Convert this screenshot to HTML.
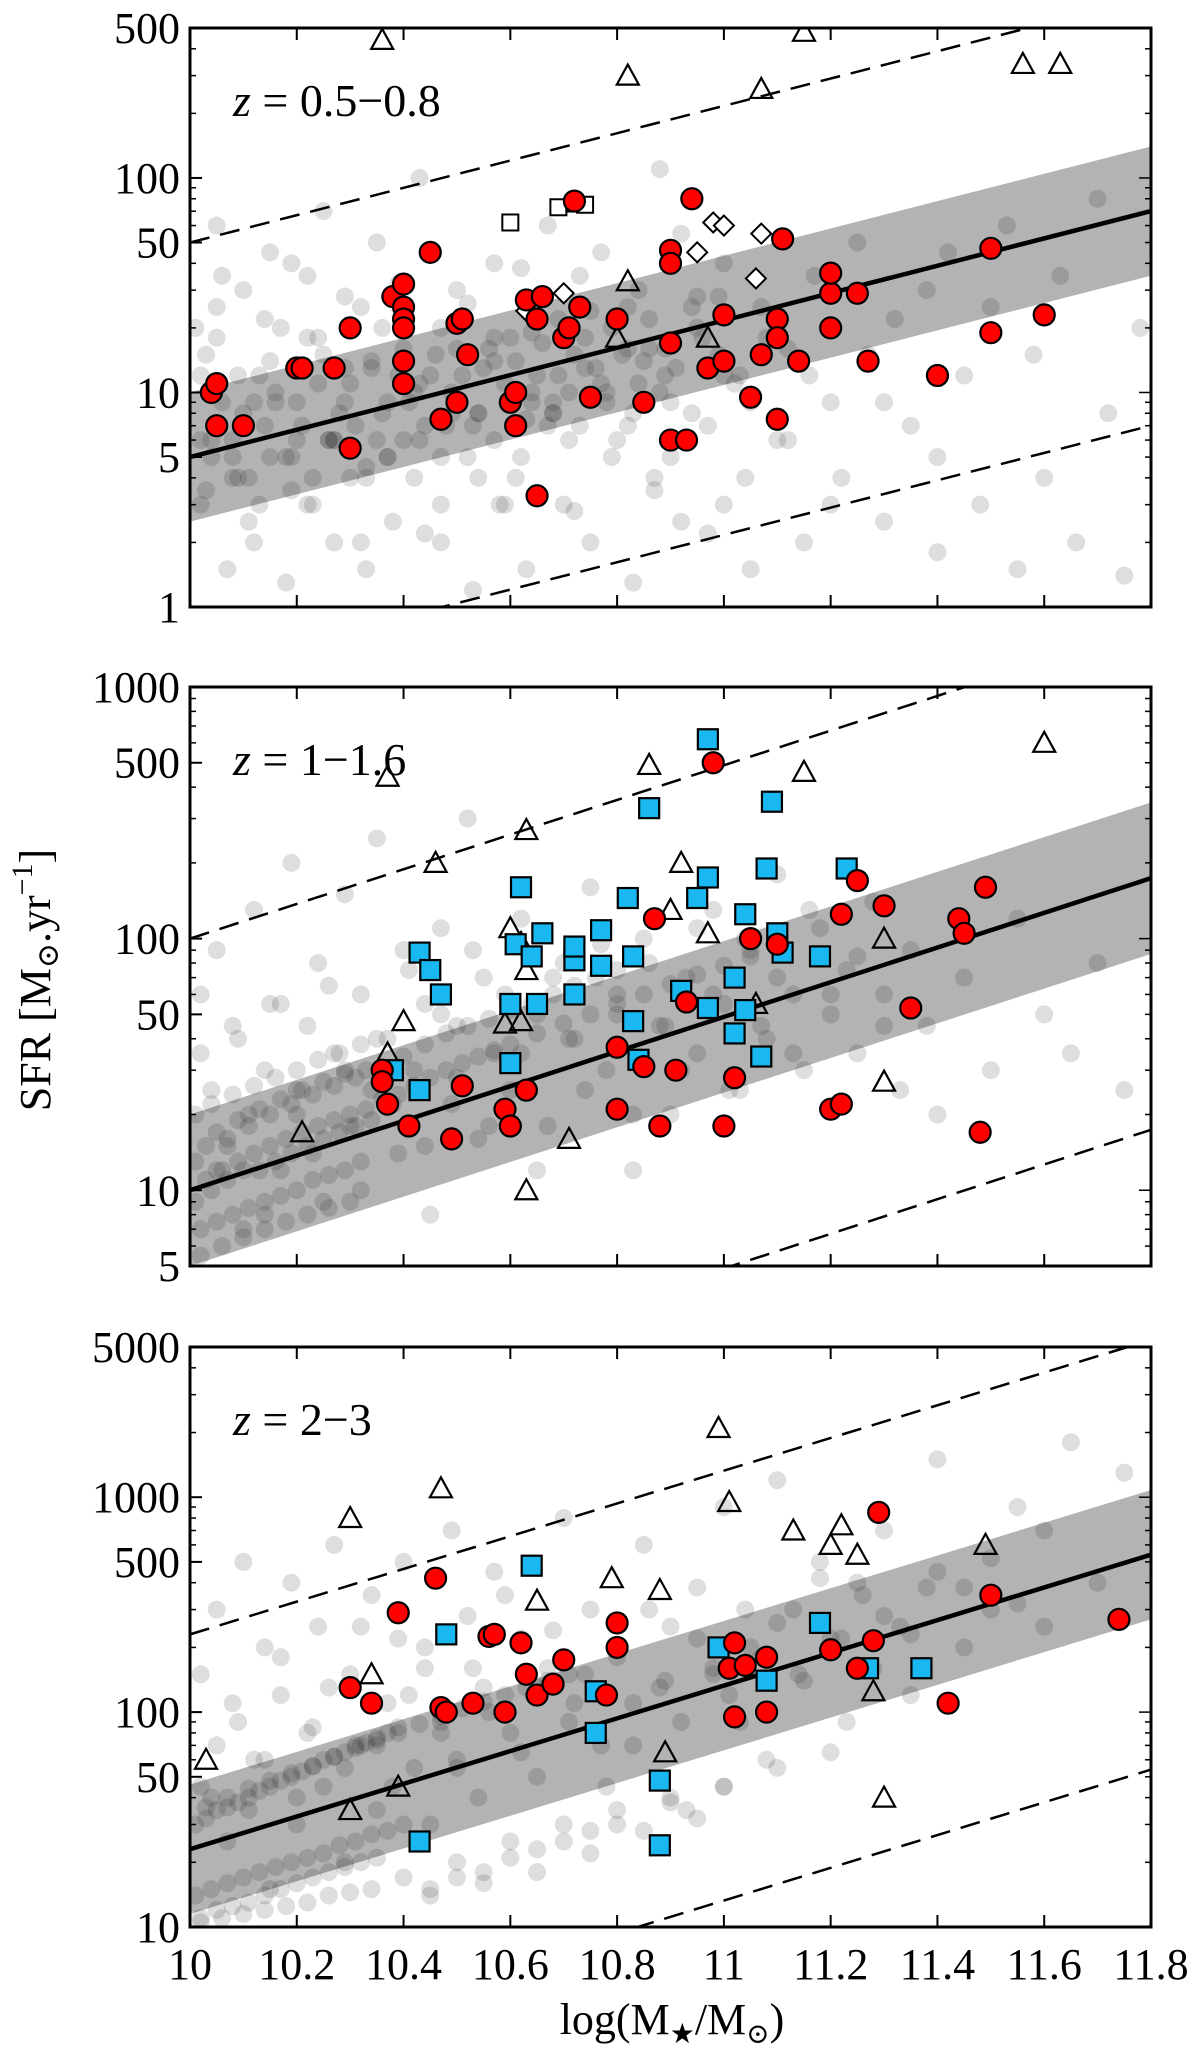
<!DOCTYPE html>
<html><head><meta charset="utf-8"><title>SFR vs stellar mass</title>
<style>html,body{margin:0;padding:0;background:#fff}svg{display:block}
text{font-family:"Liberation Serif","DejaVu Serif",serif;fill:#000}</style></head>
<body>
<svg id="chart" xmlns="http://www.w3.org/2000/svg" width="1200" height="2060" viewBox="0 0 1200 2060">
<defs>
<clipPath id="c1"><rect x="190" y="28" width="961" height="579"/></clipPath>
<clipPath id="c2"><rect x="190" y="687" width="961" height="579"/></clipPath>
<clipPath id="c3"><rect x="190" y="1347" width="961" height="580"/></clipPath>
</defs>
<g id="root"></g>
<text transform="translate(50,980) rotate(-90)" text-anchor="middle" font-size="44">SFR [M<tspan font-size="30" dy="8">⊙</tspan><tspan dy="-8">.yr</tspan><tspan font-size="30" dy="-18">−1</tspan><tspan dy="18">]</tspan></text>
<text x="672" y="2034" text-anchor="middle" font-size="44">log(M<tspan font-size="28" dy="9">★</tspan><tspan dy="-9">/M</tspan><tspan font-size="28" dy="9">⊙</tspan><tspan dy="-9">)</tspan></text>
</svg>
<script>
const xTicks=[10,10.2,10.4,10.6,10.8,11,11.2,11.4,11.6,11.8];
const xTickLabels=["10","10.2","10.4","10.6","10.8","11","11.2","11.4","11.6","11.8"];
const panelLabels=["0.5−0.8","1−1.6","2−3"];
const yTicks1=[1,5,10,50,100,500];
const yTicks2=[5,10,50,100,500,1000];
const yTicks3=[10,50,100,500,1000,5000];
const msNorm=[5,10,23];
const msSlope=[0.637,0.689,0.7615];

// Panel 1
const red1X=[10.04,10.05,10.05,10.1,10.2,10.21,10.27,10.3,10.3,10.38,10.4,10.4,10.4,10.4,10.4,10.4,10.45,10.47,10.5,10.5,10.51,10.52,10.6,10.61,10.61,10.63,10.65,10.65,10.66,10.7,10.71,10.72,10.73,10.75,10.8,10.85,10.9,10.9,10.9,10.9,10.93,10.94,10.97,11.0,11.0,11.05,11.07,11.1,11.1,11.11,11.1,11.14,11.2,11.2,11.2,11.25,11.27,11.4,11.5,11.5,11.6];
const red1Y=[10,11,7,7,13,13,13,5.5,20,28,32,25,22,20,14,11,45,7.5,21,9,22,15,9,10,7,27,3.3,22,28,18,20,78,25,9.5,22,9,17,46,40,6,6,80,13,14,23,9.5,15,22,18,52,7.5,14,20,29,36,29,14,12,47,19,23];
const tri1X=[10.36,10.82,10.82,10.8,10.97,11.07,11.15,11.56,11.63];
const tri1Y=[440,300,33,18,18,260,480,340,340];
const osq1X=[10.6,10.69,10.72,10.74];
const osq1Y=[62,73,76,75];
const dia1X=[10.63,10.7,10.95,10.98,11.0,11.07,11.06];
const dia1Y=[24,29,45,62,60,55,34];
const gray1X=[10.02,10.03,10.05,10.05,10.07,10.08,10.1,10.1,10.12,10.13,10.15,10.15,10.17,10.18,10.2,10.2,10.22,10.23,10.25,10.25,10.27,10.28,10.3,10.3,10.32,10.33,10.35,10.35,10.37,10.38,10.4,10.42,10.43,10.45,10.47,10.48,10.5,10.52,10.53,10.55,10.57,10.58,10.6,10.62,10.63,10.65,10.67,10.68,10.7,10.72,10.73,10.75,10.77,10.8,10.82,10.83,10.85,10.87,10.88,10.9,10.92,10.95,10.97,11.0,11.0,11.03,11.05,11.07,11.1,11.12,11.15,11.17,11.2,11.22,11.25,11.27,11.3,11.32,11.35,11.38,11.4,11.42,11.45,11.48,11.5,11.53,11.55,11.58,11.6,11.63,11.66,11.7,11.72,11.75,11.78,10.02,10.04,10.06,10.08,10.11,10.14,10.16,10.19,10.21,10.24,10.26,10.29,10.31,10.34,10.36,10.39,10.41,10.44,10.46,10.49,10.51,10.54,10.56,10.59,10.61,10.64,10.66,10.69,10.71,10.74,10.76,10.79,10.81,10.84,10.86,10.89,10.91,10.94,10.96,10.99,10.03,10.09,10.13,10.18,10.23,10.27,10.33,10.37,10.43,10.47,10.53,10.57,10.63,10.68,10.73,10.78,10.83,10.88,
10.01,10.04,10.06,10.09,10.11,10.14,10.16,10.19,10.22,10.24,10.27,10.29,10.32,10.34,10.37,10.39,10.42,10.44,10.47,10.49,10.52,10.54,10.57,10.59,10.62,10.64,10.67,10.69,10.72,10.74,10.77,10.79,10.82,10.84,10.87,10.89,10.92,10.94,10.97,10.99,11.02,11.04,11.08,11.12,11.16,11.2,11.3,11.4,
10.02,10.05,10.08,10.12,10.15,10.19,10.22,10.26,10.29,10.33,10.36,10.4,10.43,10.47,10.5,10.54,10.57,10.61,10.64,10.68,10.71,10.75,10.78,10.82,10.86,10.9,10.95,11.0,11.05,11.1];
const gray1Y=[3,15,25,60,1.5,4,8,30,2,12,5,45,20,1.3,6,9,35,3,15,70,2,8,11,4,25,1.5,6,50,9,2.5,16,4,100,12,2,7,30,5,1.2,13,40,3,18,5,1.5,12,60,8,3,15,35,2,11,6,25,1.3,14,4,110,9,2.5,20,7,3,40,12,1.5,25,6,16,2,35,9,4,50,15,2.5,22,7,30,1.8,45,12,3,25,60,1.5,15,4,35,2,80,8,1.4,20,6,5,9,6,4,7,10,5,7,11,6,9,7,13,8,12,9,7,15,10,12,8,16,11,14,9,17,12,10,18,13,20,15,11,22,16,13,25,18,15,3.5,4,3,5,4,6,4.5,5,6,5,7,6,7.5,8,7,9,8,10,
20,6,35,12,2.5,22,9,40,3,18,6,28,2,14,5,32,10,2.2,20,8,26,4,18,3,38,10,7,22,2.8,13,45,5,16,30,3.5,12,55,8,2.2,28,11,4,18,6,12,3,9,5,
12,18,5,9,14,3.5,18,6,13,4,20,6,11,3,16,8,14,4,19,9,6,24,10,7,16,5,28,12,9,20];

// Panel 2
const red2X=[10.36,10.36,10.37,10.41,10.49,10.51,10.59,10.6,10.63,10.8,10.8,10.85,10.87,10.91,10.93,10.88,10.98,11.0,11.02,11.05,11.1,11.2,11.22,11.22,11.25,11.3,11.35,11.44,11.45,11.48,11.49];
const red2Y=[30,27,22,18,16,26,21,18,25,37,21,31,120,30,56,18,500,18,28,100,95,21,22,125,170,135,53,120,105,17,160];
const blue2X=[10.38,10.43,10.43,10.45,10.47,10.6,10.6,10.61,10.62,10.64,10.65,10.66,10.72,10.72,10.72,10.77,10.77,10.82,10.83,10.83,10.84,10.86,10.92,10.95,10.97,10.97,10.97,11.02,11.02,11.04,11.04,11.07,11.08,11.09,11.1,11.11,11.18,11.23];
const blue2Y=[30,25,88,75,60,55,32,95,160,85,55,105,60,82,93,78,108,145,85,47,33,330,62,145,175,53,620,70,42,52,125,34,190,350,105,88,85,190];
const tri2X=[10.21,10.37,10.37,10.4,10.46,10.6,10.59,10.62,10.62,10.63,10.63,10.63,10.71,10.86,10.9,10.92,10.97,11.06,11.15,11.3,11.3,11.6];
const tri2Y=[17,440,35,47,200,110,46,96,47,75,270,10,16,490,130,200,105,55,460,100,27,600];
const gray2X=[10.02,10.04,10.05,10.07,10.09,10.1,10.12,10.14,10.15,10.17,10.19,10.2,10.22,10.24,10.25,10.27,10.29,10.3,10.32,10.34,10.35,10.37,10.39,10.4,10.42,10.44,10.45,10.47,10.49,10.5,10.52,10.54,10.55,10.57,10.6,10.62,10.65,10.67,10.7,10.72,10.75,10.78,10.8,10.83,10.85,10.88,10.9,10.93,10.95,10.98,11.0,11.03,11.05,11.08,11.1,11.13,11.15,11.18,11.2,11.23,11.25,11.28,11.3,11.33,11.35,11.38,11.4,11.45,11.5,11.55,11.6,11.65,11.7,11.75,10.01,10.03,10.05,10.07,10.09,10.11,10.13,10.15,10.17,10.19,10.21,10.23,10.25,10.27,10.29,10.31,10.33,10.01,10.04,10.07,10.1,10.13,10.16,10.19,10.22,10.25,10.28,10.31,10.34,10.02,10.05,10.08,10.11,10.14,10.17,10.2,10.23,10.26,10.29,10.32,10.02,10.06,10.1,10.14,10.18,10.22,10.26,10.3,10.01,10.04,10.08,10.12,10.16,10.2,10.24,10.28,10.32,10.36,10.4,10.44,10.48,10.52,10.56,10.6,10.64,10.68,10.72,10.76,10.8,
10.02,10.05,10.08,10.11,10.14,10.17,10.2,10.23,10.26,10.29,10.32,10.35,10.38,10.41,10.44,10.47,10.5,10.53,10.56,10.59,10.62,10.65,10.68,10.71,10.74,10.77,10.8,10.83,10.86,10.89,10.92,10.95,10.98,11.01,11.04,11.07,11.1,11.13,11.16,11.2,11.25,11.3,
10.03,10.06,10.09,10.12,10.15,10.18,10.21,10.24,10.27,10.3,10.33,10.36,10.39,10.42,10.45,10.48,10.51,10.54,10.57,10.6,10.65,10.7,10.75,10.8,10.85,10.9,10.95,11.0,11.05,11.1];
const gray2Y=[60,25,90,15,40,7,130,30,55,12,200,20,45,80,9,35,150,18,60,25,250,40,14,90,30,55,8,110,22,45,300,16,70,35,25,120,50,18,80,40,160,30,60,12,100,45,20,70,35,130,55,25,90,40,180,60,30,110,50,75,35,140,60,25,90,45,20,70,30,120,50,35,80,25,13,15,17,16,19,18,21,20,23,22,25,24,27,26,29,28,30,9,10,11,12,12,13,14,15,16,17,18,19,7,7.5,8,8.5,9,9.5,10,11,11.5,12,13,5.5,6,6.5,7,7.5,8,8.5,9,20,22,24,26,28,30,33,35,38,30,34,38,42,45,48,52,55,60,65,70,75,
35,12,45,20,8,55,25,14,65,30,10,40,22,75,15,50,28,90,18,60,35,12,70,40,25,95,50,20,80,45,30,110,60,25,100,45,70,35,130,60,85,45,
11,12,13,14,15,16,17,18,19,20,21,23,24,26,28,30,32,34,36,38,42,46,50,55,60,66,72,78,85,92];

// Panel 3
const red3X=[10.3,10.34,10.39,10.46,10.47,10.48,10.53,10.56,10.57,10.59,10.62,10.63,10.65,10.68,10.7,10.78,10.8,10.8,11.01,11.02,11.02,11.04,11.08,11.08,11.2,11.25,11.28,11.29,11.42,11.5,11.74];
const red3Y=[130,110,290,420,105,100,110,225,230,100,210,150,120,135,175,120,260,200,160,210,95,165,180,100,195,160,215,850,110,350,270];
const blue3X=[10.43,10.48,10.64,10.76,10.76,10.88,10.88,10.99,11.08,11.18,11.27,11.37];
const blue3Y=[25,230,480,125,80,48,24,200,140,260,160,160];
const tri3X=[10.03,10.3,10.3,10.34,10.39,10.47,10.65,10.79,10.88,10.89,10.99,11.01,11.13,11.2,11.22,11.25,11.28,11.3,11.49];
const tri3Y=[60,800,35,150,45,1100,330,420,370,65,2100,950,700,600,740,540,125,40,600];
const gray3X=[10.02,10.04,10.05,10.07,10.09,10.1,10.12,10.14,10.15,10.17,10.19,10.2,10.22,10.24,10.25,10.27,10.29,10.3,10.32,10.34,10.35,10.37,10.39,10.4,10.42,10.44,10.45,10.47,10.49,10.5,10.52,10.54,10.55,10.57,10.6,10.62,10.65,10.67,10.7,10.72,10.75,10.78,10.8,10.83,10.85,10.88,10.9,10.93,10.95,10.98,11.0,11.03,11.05,11.08,11.1,11.13,11.15,11.18,11.2,11.23,11.25,11.28,11.3,11.33,11.35,11.38,11.4,11.45,11.5,11.55,11.6,11.65,11.7,11.75,10.01,10.03,10.05,10.07,10.09,10.11,10.13,10.15,10.17,10.19,10.21,10.23,10.25,10.27,10.29,10.31,10.33,10.35,10.37,10.39,10.01,10.04,10.07,10.1,10.13,10.16,10.19,10.22,10.25,10.28,10.31,10.34,10.37,10.4,10.02,10.05,10.08,10.11,10.14,10.17,10.2,10.23,10.26,10.29,10.32,10.35,10.02,10.06,10.1,10.14,10.18,10.22,10.26,10.3,10.34,10.4,10.45,10.5,10.55,10.6,10.65,10.7,10.75,10.8,10.85,10.9,10.95,11.0,10.45,10.5,10.55,10.6,10.65,10.7,10.75,10.8,10.9,11.0,11.1,11.2,
10.02,10.05,10.08,10.11,10.14,10.17,10.2,10.23,10.26,10.29,10.32,10.35,10.38,10.41,10.44,10.47,10.5,10.53,10.56,10.59,10.62,10.65,10.68,10.71,10.74,10.77,10.8,10.83,10.86,10.89,10.92,10.95,10.98,11.01,11.04,11.07,11.1,11.14,11.18,11.22,11.26,11.3,11.35,11.4,11.45,11.5,11.55,11.6,
10.03,10.07,10.11,10.15,10.19,10.23,10.27,10.31,10.35,10.39,10.43,10.47,10.51,10.55,10.59,10.63,10.67,10.71];
const gray3Y=[150,40,300,25,90,500,60,200,15,120,400,30,80,250,45,600,20,150,70,350,35,110,220,500,55,160,30,90,700,60,280,40,130,450,80,220,50,160,800,110,300,45,180,70,600,130,250,35,380,150,900,90,200,60,1200,300,140,500,220,90,400,160,700,250,120,380,1500,200,300,900,250,1800,400,1300,30,32,35,36,38,40,43,45,48,50,53,56,60,62,65,70,72,76,80,85,14,15,16,17,18,19,20,21,22,24,25,27,28,30,11,12,12.5,13,14,15,16,17,18,19,20,21,10.5,11,11.5,12,12.5,13,14,14.5,15,17,14,20,16,25,18,30,22,35,28,40,32,45,15,17,18,21,23,25,28,30,38,45,55,65,
45,70,110,35,60,180,40,85,130,55,250,70,45,120,200,80,55,160,100,350,65,130,240,90,150,70,200,110,300,140,90,220,160,120,300,180,260,150,420,220,350,280,230,450,380,520,320,700,
36,40,44,48,52,56,62,68,74,80,88,96,104,112,120,130,140,150];

const svg=document.getElementById('chart');
const root=document.getElementById('root');
const NS='http://www.w3.org/2000/svg';
const X0=190,X1=1151;
function sx(v){return X0+(v-10)/1.8*(X1-X0);}
function mk(tag,attrs,parent){const e=document.createElementNS(NS,tag);for(const k in attrs)e.setAttribute(k,attrs[k]);(parent||root).appendChild(e);return e;}

const panels=[
 {top:28,bot:607,ymin:1,ymax:500,ticks:yTicks1,clip:'c1',red:[red1X,red1Y],tri:[tri1X,tri1Y],gray:[gray1X,gray1Y],osq:[osq1X,osq1Y],dia:[dia1X,dia1Y]},
 {top:687,bot:1266,ymin:5,ymax:1000,ticks:yTicks2,clip:'c2',red:[red2X,red2Y],tri:[tri2X,tri2Y],gray:[gray2X,gray2Y],blue:[blue2X,blue2Y]},
 {top:1347,bot:1927,ymin:10,ymax:5000,ticks:yTicks3,clip:'c3',red:[red3X,red3Y],tri:[tri3X,tri3Y],gray:[gray3X,gray3Y],blue:[blue3X,blue3Y]}
];

panels.forEach((p,i)=>{
 const L0=Math.log10(p.ymin),L1=Math.log10(p.ymax);
 const sy=v=>p.bot-(Math.log10(v)-L0)/(L1-L0)*(p.bot-p.top);
 const g=mk('g',{});
 
 
 const pl=mk('g',{'clip-path':'url(#'+p.clip+')'},g);
 const ms=x=>msNorm[i]*Math.pow(10,msSlope[i]*(x-10));
 const band=mk('polygon',{points:[sx(10)+','+sy(ms(10)*2),sx(11.8)+','+sy(ms(11.8)*2),sx(11.8)+','+sy(ms(11.8)/2),sx(10)+','+sy(ms(10)/2)].join(' '),fill:'#b3b3b3'},pl);
 
 
 const gg=mk('g',{fill:'#000','fill-opacity':'0.13'},pl);
 
 
 p.gray[0].forEach((x,k)=>{const c=mk('circle',{cx:sx(x),cy:sy(p.gray[1][k]),r:9},gg);
  
  });
 const line=(f,dash,w,name)=>{const e=mk('line',{x1:sx(10),y1:sy(ms(10)*f),x2:sx(11.8),y2:sy(ms(11.8)*f),stroke:'#000','stroke-width':w,'stroke-dasharray':dash},pl);
  
  };
 line(1,'none',4.5,'main-sequence-line');
 line(10,'20,11',2.5,'upper-dashed-line');
 line(0.1,'20,11',2.5,'lower-dashed-line');
 p.tri[0].forEach((x,k)=>{const cx=sx(x),cy=sy(p.tri[1][k]);
  const t=mk('polygon',{points:`${cx-11},${cy+9} ${cx+11},${cy+9} ${cx},${cy-11}`,fill:'none',stroke:'#000','stroke-width':2.2},pl);
  
  });
 if(p.osq)p.osq[0].forEach((x,k)=>{const cx=sx(x),cy=sy(p.osq[1][k]);
  const t=mk('rect',{x:cx-8,y:cy-8,width:16,height:16,fill:'#fff',stroke:'#000','stroke-width':2},pl);
  
  });
 if(p.dia)p.dia[0].forEach((x,k)=>{const cx=sx(x),cy=sy(p.dia[1][k]);
  const t=mk('polygon',{points:`${cx},${cy-10} ${cx+10},${cy} ${cx},${cy+10} ${cx-10},${cy}`,fill:'#fff',stroke:'#000','stroke-width':2},pl);
  
  });
 if(p.blue)p.blue[0].forEach((x,k)=>{const cx=sx(x),cy=sy(p.blue[1][k]);
  const t=mk('rect',{x:cx-10,y:cy-10,width:20,height:20,fill:'#1ab8f0',stroke:'#000','stroke-width':2.2},pl);
  
  });
 p.red[0].forEach((x,k)=>{const c=mk('circle',{cx:sx(x),cy:sy(p.red[1][k]),r:10.5,fill:'#ff0000',stroke:'#000','stroke-width':2.2},pl);
  
  });
 const fr=mk('rect',{x:X0,y:p.top,width:X1-X0,height:p.bot-p.top,fill:'none',stroke:'#000','stroke-width':3},g);
 
 
 xTicks.forEach((t,k)=>{const x=sx(t);
  mk('line',{x1:x,y1:p.bot,x2:x,y2:p.bot-12,stroke:'#000','stroke-width':2},g);
  mk('line',{x1:x,y1:p.top,x2:x,y2:p.top+12,stroke:'#000','stroke-width':2},g);
  if(i===2){const tx=mk('text',{x:x,y:p.bot+52,'text-anchor':'middle','font-size':44},g);tx.textContent=xTickLabels[k];
   
   }
 });
 for(let d=Math.floor(L0);d<L1;d++){for(let m=1;m<10;m++){const v=m*Math.pow(10,d);if(v<p.ymin||v>p.ymax)continue;
  const y=sy(v);const len=(m===1)?12:6;
  mk('line',{x1:X0,y1:y,x2:X0+len,y2:y,stroke:'#000','stroke-width':1.5},g);
  mk('line',{x1:X1,y1:y,x2:X1-len,y2:y,stroke:'#000','stroke-width':1.5},g);}}
 p.ticks.forEach(t=>{const y=sy(t);
  mk('line',{x1:X0,y1:y,x2:X0+12,y2:y,stroke:'#000','stroke-width':2},g);
  const tx=mk('text',{x:X0-10,y:y+15,'text-anchor':'end','font-size':44},g);tx.textContent=String(t);
  
  });
 const lab=mk('text',{x:233,y:p.top+88,'font-size':46},g);
 lab.innerHTML='<tspan font-style="italic">z</tspan> = '+panelLabels[i];
 
 
});
</script>
</body></html>
